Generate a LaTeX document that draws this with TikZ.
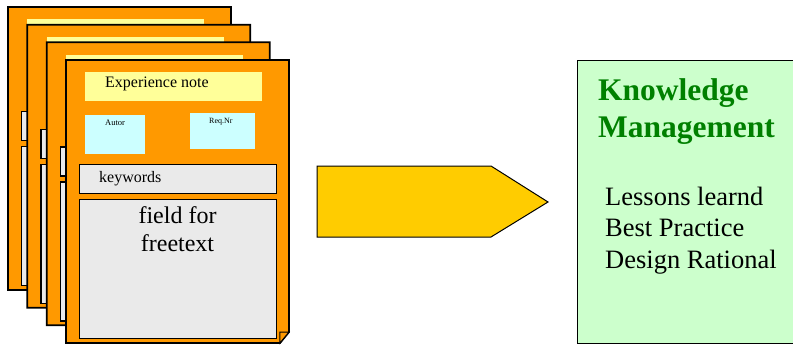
\documentclass[tikz,border=0pt]{standalone}
\usepackage{fontspec}
\setmainfont{Liberation Serif}
\usepackage{xcolor}
\usetikzlibrary{positioning}
\definecolor{pageorange}{HTML}{FF9900}
\definecolor{noteyellow}{HTML}{FFFF99}
\definecolor{tagcyan}{HTML}{CCFFFF}
\definecolor{fieldgray}{HTML}{EAEAEA}
\definecolor{arrowgold}{HTML}{FFCC00}
\definecolor{kmgreen}{HTML}{CCFFCC}
\definecolor{kmtitlegreen}{HTML}{008000}

\begin{document}
\begin{tikzpicture}[x=1pt, y=-1pt,
    page/.style={draw, line width=1.8pt, fill=pageorange, line join=miter},
    flatbox/.style={fill=#1, anchor=north west, inner sep=0pt},
    fieldbox/.style={draw, line width=1.4pt, fill=fieldgray, anchor=north west, inner sep=0pt, minimum width=197pt},
    txt/.style={inner sep=0pt, anchor=base west},
    kmbox/.style={draw, line width=1pt, fill=kmgreen, anchor=north west, inner sep=0pt}
]
\useasboundingbox (0,0) rectangle (793,345);
% Stack of experience notes
\foreach \i in {0,...,3} {
  \begin{scope}[shift={(8+19.33*\i, 7+17.67*\i)}]
    \draw[page] (0,0) -- (223,0) -- (223,272) -- (214,283) -- (0,283) -- cycle;
    \draw[page, line width=1pt] (214,272) -- (223,272) -- (214,283) -- cycle;
    \node[flatbox=noteyellow, minimum width=177pt, minimum height=29pt] (note\i) at (19,12) {};
    \node[flatbox=tagcyan, minimum width=60pt, minimum height=39pt] (autor\i) at (19,55) {};
    \node[flatbox=tagcyan, minimum width=65pt, minimum height=36pt] (reqnr\i) at (124,53) {};
    \node[fieldbox, minimum height=29pt] (keywords\i) at (13,104) {};
    \node[fieldbox, minimum height=139pt] (freetext\i) at (13,139) {};
  \end{scope}
}
% Texts of the front note
\node[txt, font=\fontsize{16}{19}\selectfont] (notetxt) at (105,88) {Experience note};
\node[txt, font=\fontsize{8.5}{10}\selectfont] (autortxt) at (105,125) {Autor};
\node[txt, font=\fontsize{8}{10}\selectfont] (reqnrtxt) at (209,123) {Req.Nr};
\node[txt, font=\fontsize{16}{19}\selectfont] (keywordstxt) at (99,182) {keywords};
\node[inner sep=0pt, anchor=base, align=center, font=\fontsize{24}{28}\selectfont] (freetexttxt) at (177.5,251) {field for\\freetext};
% Block arrow
\draw[line width=1pt, fill=arrowgold, line join=miter] (317,166) -- (491,166) -- (548,202) -- (491,237) -- (317,237) -- cycle;
% Knowledge management
\node[kmbox, minimum width=220pt, minimum height=283pt] (km) at (577,60) {};
\node[txt, align=left, text=kmtitlegreen, font=\fontsize{31.5}{37}\selectfont\bfseries] (kmhead) at (598,137) {Knowledge\\Management};
\node[txt, align=left, font=\fontsize{26.5}{31.5}\selectfont] (kmitems) at (605,268) {Lessons learnd\\Best Practice\\Design Rational};
\end{tikzpicture}
\end{document}
